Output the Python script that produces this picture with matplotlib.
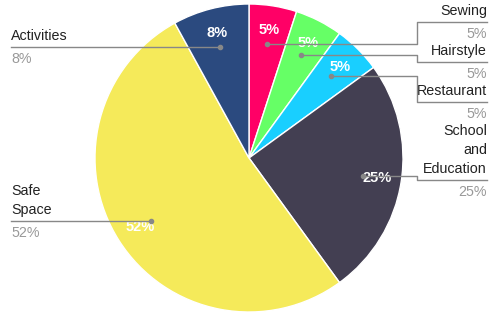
import matplotlib.pyplot as plt
import numpy as np

plt.rcParams['font.family'] = ['Liberation Sans', 'DejaVu Sans']

# data (clockwise from the top)
labels = ['Sewing', 'Hairstyle', 'Restaurant', 'School\nand\nEducation', 'Safe\nSpace', 'Activities']
values = [5, 5, 5, 25, 52, 8]
colors = ['#ff0066', '#66ff66', '#19cfff', '#433f52', '#f5ea5a', '#2b4a7f']

W, H = 490, 319
cx, cy, R = 249, 158, 154  # pixel coords, y down

fig = plt.figure(figsize=(W / 100, H / 100), dpi=100)
ax = fig.add_axes([0, 0, 1, 1])

wedges, texts, autotexts = ax.pie(values, colors=colors, startangle=90, counterclock=False,
                                  center=(cx, H - cy), radius=R,
                                  autopct='%1.0f%%', pctdistance=0.84,
                                  wedgeprops=dict(edgecolor='white', linewidth=1),
                                  textprops=dict(color='white', fontsize=10.5, fontweight='bold'))
ax.set_xlim(0, W)
ax.set_ylim(0, H)
ax.set_aspect('equal')
ax.axis('off')

# label side and y of the leader line (pixels from top)
sides = ['r', 'r', 'r', 'r', 'l', 'l']
line_y = [22, 62, 102, 180, 221, 47]
gray = '#888888'

for w, lab, v, side, ly in zip(wedges, labels, values, sides, line_y):
    mid = np.deg2rad((w.theta1 + w.theta2) / 2)
    dx = cx + 0.75 * R * np.cos(mid)
    dy = H - cy + 0.75 * R * np.sin(mid)
    ly = H - ly
    if side == 'r':
        xs = [dx, 417, 417, 487]
        ys = [dy, dy, ly, ly]
        tx, ha = 487, 'right'
    else:
        xs = [dx, 11]
        ys = [ly, ly]
        tx, ha = 11, 'left'
    ax.plot(xs, ys, color=gray, lw=1, zorder=5)
    ax.plot(dx, dy if side == 'r' else ly, 'o', color=gray, ms=3, zorder=5)
    ax.text(tx, ly + 4, lab, ha=ha, va='bottom', fontsize=10.3, color='#222222',
            linespacing=1.45)
    ax.text(tx, ly - 5, '%d%%' % v, ha=ha, va='top', fontsize=10.3, color='#999999')

plt.savefig('out.png', dpi=100)
